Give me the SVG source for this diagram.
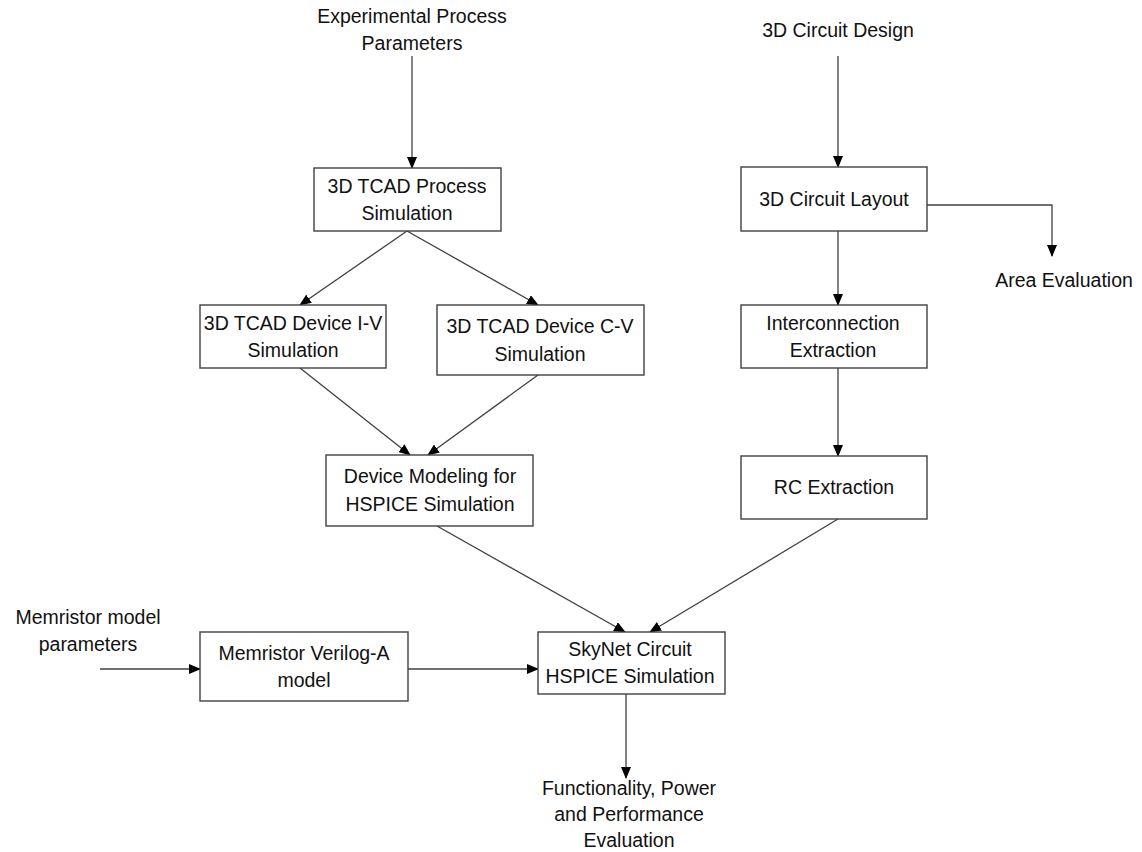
<svg xmlns="http://www.w3.org/2000/svg" width="1142" height="852" viewBox="0 0 1142 852">
<defs>
<marker id="ah" markerWidth="12" markerHeight="10" refX="11" refY="5" orient="auto" markerUnits="userSpaceOnUse">
<path d="M0,0 L12,5 L0,10 z" fill="#000"/>
</marker>
<style>
.box{fill:#fff;stroke:#404040;stroke-width:1.4}
.t{font-family:"Liberation Sans",Arial,sans-serif;font-size:19.5px;fill:#111;text-anchor:middle}
.c{fill:none;stroke:#404040;stroke-width:1.3;marker-end:url(#ah)}
</style>
</defs>
<rect width="1142" height="852" fill="#fff"/>
<g id="connectors">
<line class="c" x1="412" y1="56" x2="412" y2="168"/>
<line class="c" x1="407" y1="231" x2="300" y2="305"/>
<line class="c" x1="407" y1="231" x2="538" y2="305"/>
<line class="c" x1="300" y1="368" x2="410" y2="455"/>
<line class="c" x1="538" y1="375" x2="428" y2="455"/>
<line class="c" x1="437" y1="526" x2="625" y2="632"/>
<line class="c" x1="838" y1="519" x2="650" y2="632"/>
<line class="c" x1="838" y1="56" x2="838" y2="167"/>
<polyline class="c" points="927,205 1052,205 1052,256"/>
<line class="c" x1="838" y1="231" x2="838" y2="305"/>
<line class="c" x1="838" y1="368" x2="838" y2="456"/>
<line class="c" x1="100" y1="669" x2="200" y2="669"/>
<line class="c" x1="408" y1="669" x2="538" y2="669"/>
<line class="c" x1="626" y1="694" x2="626" y2="778"/>
</g>
<g id="exp-params"><text class="t" x="412" y="23">Experimental Process</text><text class="t" x="412" y="50">Parameters</text></g>
<g id="tcad-process"><rect class="box" x="314" y="168" width="187" height="63"/><text class="t" x="407" y="193">3D TCAD Process</text><text class="t" x="407" y="220">Simulation</text></g>
<g id="tcad-iv"><rect class="box" x="200" y="305" width="186" height="63"/><text class="t" x="293" y="330">3D TCAD Device I-V</text><text class="t" x="293" y="357">Simulation</text></g>
<g id="tcad-cv"><rect class="box" x="437" y="305" width="207" height="70"/><text class="t" x="540" y="333">3D TCAD Device C-V</text><text class="t" x="540" y="361">Simulation</text></g>
<g id="device-modeling"><rect class="box" x="326" y="455" width="207" height="71"/><text class="t" x="430" y="483">Device Modeling for</text><text class="t" x="430" y="511">HSPICE Simulation</text></g>
<g id="circuit-design"><text class="t" x="838" y="37">3D Circuit Design</text></g>
<g id="circuit-layout"><rect class="box" x="741" y="167" width="186" height="64"/><text class="t" x="834" y="206">3D Circuit Layout</text></g>
<g id="area-eval"><text class="t" x="1064" y="287">Area Evaluation</text></g>
<g id="interconnection"><rect class="box" x="741" y="305" width="186" height="63"/><text class="t" x="833" y="330">Interconnection</text><text class="t" x="833" y="357">Extraction</text></g>
<g id="rc-extraction"><rect class="box" x="741" y="456" width="186" height="63"/><text class="t" x="834" y="494">RC Extraction</text></g>
<g id="memristor-params"><text class="t" x="88" y="624">Memristor model</text><text class="t" x="88" y="651">parameters</text></g>
<g id="memristor-model"><rect class="box" x="200" y="632" width="208" height="69"/><text class="t" x="304" y="660">Memristor Verilog-A</text><text class="t" x="304" y="687">model</text></g>
<g id="skynet"><rect class="box" x="538" y="632" width="187" height="62"/><text class="t" x="630" y="656">SkyNet Circuit</text><text class="t" x="630" y="683">HSPICE Simulation</text></g>
<g id="functionality"><text class="t" x="629" y="795">Functionality, Power</text><text class="t" x="629" y="821">and Performance</text><text class="t" x="629" y="847">Evaluation</text></g>
</svg>
